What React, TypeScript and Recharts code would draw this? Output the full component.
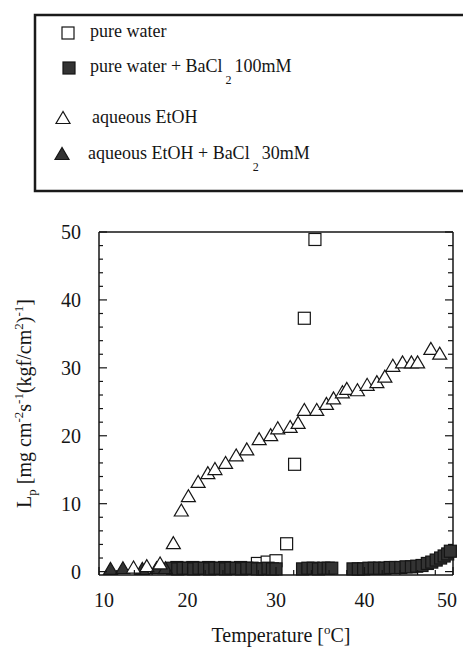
import React from 'react';
import { ScatterChart, Scatter, XAxis, YAxis, Label } from 'recharts';

// pure water (open squares)
const pureWaterT = [18.8, 20.6, 22.4, 24.2, 26.0, 27.9, 29.0, 30.0, 31.2, 32.1, 33.2, 34.4];
const pureWaterLp = [0.6, 0.6, 0.6, 0.6, 0.6, 1.2, 1.4, 1.6, 4.1, 15.8, 37.3, 48.9];

// pure water + BaCl2 100mM (filled squares)
const waterBaT = [
  18.3, 18.9, 19.5, 20.1, 20.7, 21.3, 21.9, 22.5, 23.1, 23.7, 24.3, 24.9, 25.5, 26.1, 26.7, 27.3, 27.9, 28.5,
  29.1, 29.6, 30.0, 33.0, 33.6, 34.2, 34.8, 35.4, 35.9, 36.3, 38.7, 39.3, 39.9, 40.5, 41.1, 41.7, 42.3, 42.9,
  43.5, 44.1, 44.7, 45.3, 45.9, 46.5, 47.1, 47.6, 48.1, 48.6, 49.0, 49.4, 49.7,
];
const waterBaLp = [
  0.5, 0.4, 0.5, 0.5, 0.4, 0.5, 0.5, 0.4, 0.5, 0.5, 0.4, 0.5, 0.5, 0.4, 0.5, 0.5, 0.4, 0.4,
  0.5, 0.4, 0.4, 0.4, 0.5, 0.5, 0.4, 0.5, 0.5, 0.5, 0.4, 0.4, 0.4, 0.5, 0.5, 0.5, 0.5, 0.6,
  0.6, 0.6, 0.7, 0.7, 0.8, 0.9, 1.2, 1.4, 1.7, 2.0, 2.3, 2.6, 3.0,
];

// aqueous EtOH (open triangles)
const etohT = [
  13.9, 15.4, 16.9, 18.4, 19.3, 20.1, 21.2, 22.3, 23.1, 24.3, 25.5, 26.7, 28.1, 29.4, 30.2, 31.6, 32.5,
  33.2, 34.6, 35.7, 36.5, 37.5, 38.0, 39.2, 40.3, 41.4, 42.3, 43.2, 44.3, 45.3, 46.0, 47.5, 48.5,
];
const etohLp = [
  0.6, 0.8, 1.2, 4.2, 9.0, 11.1, 13.2, 14.5, 15.1, 16.0, 17.1, 18.0, 19.5, 20.1, 21.1, 21.3, 21.9,
  23.8, 23.8, 24.7, 25.5, 26.4, 26.9, 26.7, 27.5, 27.9, 28.7, 30.3, 30.8, 30.8, 30.8, 32.8, 32.1,
];

// aqueous EtOH + BaCl2 30mM (filled triangles)
const etohBaT = [11.3, 12.7, 14.9, 16.5, 17.5];
const etohBaLp = [0.4, 0.5, 0.4, 0.5, 0.5];

const xTicks = [10, 12, 14, 16, 18, 20, 22, 24, 26, 28, 30, 32, 34, 36, 38, 40, 42, 44, 46, 48, 50];
const yTicks = [0, 2, 4, 6, 8, 10, 12, 14, 16, 18, 20, 22, 24, 26, 28, 30, 32, 34, 36, 38, 40, 42, 44, 46, 48, 50];

const font = '"Liberation Serif", "Times New Roman", serif';
const ink = '#151515';
const dark = '#333';

const toPoints = (t: number[], lp: number[]) => t.map((v, i) => ({ t: v, lp: lp[i] }));

const pureWater = toPoints(pureWaterT, pureWaterLp);
const waterBa = toPoints(waterBaT, waterBaLp);
const etoh = toPoints(etohT, etohLp);
const etohBa = toPoints(etohBaT, etohBaLp);

const square = (fill: string) => (p: any) => (
  <rect x={p.cx - 6} y={p.cy - 6} width={12} height={12} fill={fill} stroke={ink} strokeWidth={1.2} />
);
const triangle = (fill: string) => (p: any) => (
  <polygon
    points={`${p.cx},${p.cy - 6.5} ${p.cx - 7},${p.cy + 5.5} ${p.cx + 7},${p.cy + 5.5}`}
    fill={fill}
    stroke={ink}
    strokeWidth={1.2}
  />
);

const isMajor = (v: number) => v % 10 === 0;

const LeftTick = (p: any) => {
  const v = p.payload.value;
  return (
    <g>
      <line x1={p.x} y1={p.y} x2={p.x + (isMajor(v) ? 8 : 4)} y2={p.y} stroke={ink} strokeWidth={1.2} />
      {isMajor(v) && (
        <text x={p.x - 18} y={p.y} dy="0.35em" textAnchor="end" fontFamily={font} fontSize={20} fill={ink}>
          {v}
        </text>
      )}
    </g>
  );
};

const BottomTick = (p: any) => {
  const v = p.payload.value;
  const dx = v === 10 ? 5 : v === 50 ? -6 : 0;
  return (
    <g>
      <line x1={p.x} y1={p.y} x2={p.x} y2={p.y - (isMajor(v) ? 8 : 5)} stroke={ink} strokeWidth={1.2} />
      {isMajor(v) && (
        <text x={p.x + dx} y={p.y + 32} textAnchor="middle" fontFamily={font} fontSize={20} fill={ink}>
          {v}
        </text>
      )}
    </g>
  );
};

const TopTick = (p: any) => (
  <line x1={p.x} y1={p.y} x2={p.x} y2={p.y + (isMajor(p.payload.value) ? 8 : 5)} stroke={ink} strokeWidth={1.2} />
);

const RightTick = (p: any) => (
  <line x1={p.x} y1={p.y} x2={p.x - (isMajor(p.payload.value) ? 8 : 5)} y2={p.y} stroke={ink} strokeWidth={1.2} />
);

const XTitle = (props: any) => {
  const vb = props.viewBox || { x: 99, y: 575, width: 354, height: 1 };
  const cx = vb.x + vb.width / 2 + 5;
  return (
    <text x={cx} y={vb.y + 67} textAnchor="middle" fontFamily={font} fontSize={20} fill={ink}>
      Temperature [<tspan dy={-8} fontSize={13}>o</tspan>
      <tspan dy={8}>C]</tspan>
    </text>
  );
};

const YTitle = (props: any) => {
  const vb = props.viewBox || { x: 98, y: 232, width: 1, height: 343 };
  const x = vb.x + vb.width - 68;
  const y = vb.y + vb.height / 2;
  return (
    <text
      x={x}
      y={y}
      textAnchor="middle"
      transform={`rotate(-90, ${x}, ${y})`}
      fontFamily={font}
      fontSize={20}
      fill={ink}
    >
      L<tspan dy={5} fontSize={13}>p</tspan>
      <tspan dy={-5}> [mg cm</tspan>
      <tspan dy={-8} fontSize={13}>-2</tspan>
      <tspan dy={8}>s</tspan>
      <tspan dy={-8} fontSize={13}>-1</tspan>
      <tspan dy={8}>(kgf/cm</tspan>
      <tspan dy={-8} fontSize={13}>2</tspan>
      <tspan dy={8}>)</tspan>
      <tspan dy={-8} fontSize={13}>-1</tspan>
      <tspan dy={8}>]</tspan>
    </text>
  );
};

const LegendBox = () => (
  <svg width={463} height={200} style={{ position: 'absolute', left: 0, top: 0 }}>
    <path d="M 463 15 L 35 15 L 35 191 L 463 191" fill="none" stroke="#1a1a1a" strokeWidth={2.5} />
    <g fontFamily={font} fontSize={18} fill={ink}>
      <rect x={62} y={27} width={12} height={12} fill="#fff" stroke={ink} strokeWidth={1.2} />
      <text x={90} y={37}>pure water</text>

      <rect x={63} y={62} width={12} height={12} fill={dark} stroke={ink} strokeWidth={1.2} />
      <text x={90} y={72}>
        pure water + BaCl<tspan dx={3} dy={12} fontSize={12}>2</tspan>
        <tspan dx={3} dy={-12}>100mM</tspan>
      </text>

      <polygon points="63,111.5 56,123.5 70,123.5" fill="#fff" stroke={ink} strokeWidth={1.2} />
      <text x={92} y={123}>aqueous EtOH</text>

      <polygon points="62,147.5 55,159.5 69,159.5" fill={dark} stroke={ink} strokeWidth={1.2} />
      <text x={88} y={159}>
        aqueous EtOH + BaCl<tspan dx={3} dy={12} fontSize={12}>2</tspan>
        <tspan dx={3} dy={-12}>30mM</tspan>
      </text>
    </g>
  </svg>
);

export default function App() {
  return (
    <div
      style={{
        position: 'absolute',
        left: 0,
        top: 0,
        width: 463,
        height: 651,
        overflow: 'hidden',
        background: '#fff',
      }}
    >
      <LegendBox />
      <div style={{ position: 'absolute', left: 0, top: 0 }}>
        <ScatterChart width={463} height={651} margin={{ top: 231, right: 9, bottom: 75, left: 98 }}>
          <XAxis
            type="number"
            dataKey="t"
            domain={[10, 50]}
            ticks={xTicks}
            interval={0}
            height={1}
            tickSize={0}
            tickMargin={0}
            tickLine={false}
            tick={BottomTick}
            axisLine={{ stroke: ink, strokeWidth: 1.5 }}
          >
            <Label content={XTitle} />
          </XAxis>
          <XAxis
            xAxisId="top"
            orientation="top"
            type="number"
            domain={[10, 50]}
            allowDataOverflow
            ticks={xTicks}
            interval={0}
            height={1}
            tickSize={0}
            tickMargin={0}
            tickLine={false}
            tick={TopTick}
            axisLine={{ stroke: ink, strokeWidth: 1.5 }}
          />
          <YAxis
            type="number"
            dataKey="lp"
            domain={[-0.5, 50]}
            ticks={yTicks}
            interval={0}
            width={1}
            tickSize={0}
            tickMargin={0}
            tickLine={false}
            tick={LeftTick}
            axisLine={{ stroke: ink, strokeWidth: 1.5 }}
          >
            <Label content={YTitle} />
          </YAxis>
          <YAxis
            yAxisId="right"
            orientation="right"
            type="number"
            domain={[-0.5, 50]}
            allowDataOverflow
            ticks={yTicks}
            interval={0}
            width={1}
            tickSize={0}
            tickMargin={0}
            tickLine={false}
            tick={RightTick}
            axisLine={{ stroke: ink, strokeWidth: 1.5 }}
          />
          <Scatter name="pure water" data={pureWater} shape={square('#fff')} isAnimationActive={false} />
          <Scatter name="pure water + BaCl2 100mM" data={waterBa} shape={square(dark)} isAnimationActive={false} />
          <Scatter name="aqueous EtOH + BaCl2 30mM" data={etohBa} shape={triangle(dark)} isAnimationActive={false} />
          <Scatter name="aqueous EtOH" data={etoh} shape={triangle('#fff')} isAnimationActive={false} />
        </ScatterChart>
      </div>
    </div>
  );
}
